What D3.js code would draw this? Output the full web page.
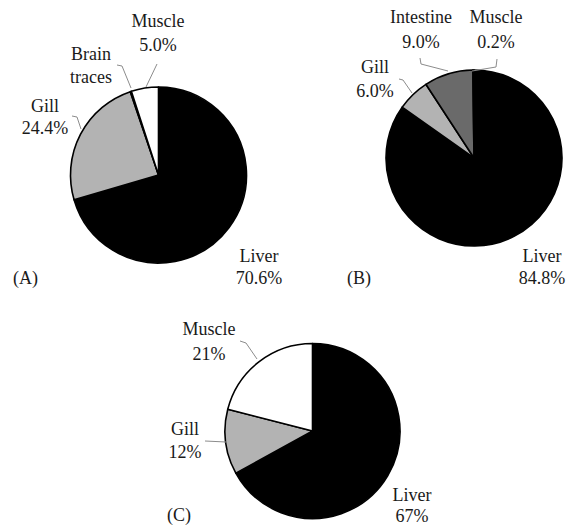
<!DOCTYPE html>
<html>
<head>
<meta charset="utf-8">
<script src="https://cdn.jsdelivr.net/npm/d3@7"></script>
<style>
  html, body { margin: 0; padding: 0; background: #fff; }
  svg { display: block; }
</style>
</head>
<body>
<svg id="chart" width="578" height="525"></svg>
<script>
// Distribution of the compound across tissues, one pie per panel.
// Slices run clockwise from 12 o'clock in the order listed.
const tissuesA = ["Liver", "Gill", "Brain traces", "Muscle"];
const valuesA  = [70.6, 24.4, 0.2, 5.0];
const labelsA  = ["70.6%", "24.4%", "", "5.0%"];

const tissuesB = ["Liver", "Gill", "Intestine", "Muscle"];
const valuesB  = [84.8, 6.0, 9.0, 0.2];
const labelsB  = ["84.8%", "6.0%", "9.0%", "0.2%"];

const tissuesC = ["Liver", "Gill", "Muscle"];
const valuesC  = [67, 12, 21];
const labelsC  = ["67%", "12%", "21%"];

const panelTags = ["(A)", "(B)", "(C)"];

const FONT = "'Liberation Serif', 'DejaVu Serif', 'Times New Roman', serif";

// Fill per tissue
const fillFor = {
  "Liver": "#000000",
  "Gill": "#b3b3b3",
  "Brain traces": "#000000",
  "Muscle": "#ffffff",
  "Intestine": "#6a6a6a"
};

// Layout of each panel: pie centre/radius, label anchors, leader lines, tag position
const layout = [
  {
    cx: 158.5, cy: 175, r: 88,
    tag: [13, 284],
    text: {
      "Liver":        { x: 259, y: [262, 284] },
      "Gill":         { x: 45,  y: [112, 134] },
      "Brain traces": { x: 91,  y: [60, 83] },
      "Muscle":       { x: 158, y: [27, 51] }
    },
    leaders: [
      [[72, 116], [77, 117], [81, 129]],
      [[117, 65], [122, 66], [131, 88]],
      [[157, 64], [146, 87]]
    ]
  },
  {
    cx: 474, cy: 158, r: 88,
    tag: [347, 284],
    text: {
      "Liver":     { x: 542, y: [262, 284] },
      "Gill":      { x: 375, y: [73, 97] },
      "Intestine": { x: 421, y: [23, 48] },
      "Muscle":    { x: 496, y: [23, 48] }
    },
    leaders: [
      [[399, 79], [403, 80], [412, 93]],
      [[420, 58], [421, 64], [448, 71]],
      [[497, 59], [496, 67], [472, 71]]
    ]
  },
  {
    cx: 312.5, cy: 431, r: 87.5,
    tag: [167, 521],
    text: {
      "Liver":  { x: 412, y: [501, 522] },
      "Gill":   { x: 185, y: [435, 458] },
      "Muscle": { x: 209, y: [335, 360] }
    },
    leaders: [
      [[240, 341], [246, 343], [257, 359]],
      [[205, 441], [226, 442]]
    ]
  }
];

const panels = [
  { tissues: tissuesA, values: valuesA, labels: labelsA },
  { tissues: tissuesB, values: valuesB, labels: labelsB },
  { tissues: tissuesC, values: valuesC, labels: labelsC }
];

const svg = d3.select("#chart");
const pie = d3.pie().sort(null).value(d => d.value).startAngle(0).endAngle(2 * Math.PI);

function addText(x, y, s, anchor) {
  svg.append("text")
    .attr("x", x)
    .attr("y", y)
    .attr("text-anchor", anchor)
    .attr("font-family", FONT)
    .attr("font-size", 18)
    .attr("fill", "#1a1a1a")
    .text(s);
}

panels.forEach((p, i) => {
  const L = layout[i];
  const rows = p.tissues.map((t, k) => ({ tissue: t, value: p.values[k], label: p.labels[k] }));
  const arc = d3.arc().innerRadius(0).outerRadius(L.r);

  const g = svg.append("g").attr("transform", `translate(${L.cx},${L.cy})`);
  g.selectAll("path")
    .data(pie(rows))
    .join("path")
    .attr("d", arc)
    .attr("fill", d => fillFor[d.data.tissue])
    .attr("stroke", "#000")
    .attr("stroke-width", 1.6)
    .attr("stroke-linejoin", "round");

  // leader lines
  const line = d3.line();
  svg.append("g").selectAll("path")
    .data(L.leaders)
    .join("path")
    .attr("d", line)
    .attr("fill", "none")
    .attr("stroke", "#8c8c8c")
    .attr("stroke-width", 1);

  // two-line labels: tissue name, then share
  rows.forEach(row => {
    const pos = L.text[row.tissue];
    const parts = row.tissue === "Brain traces" ? ["Brain", "traces"] : [row.tissue, row.label];
    parts.forEach((s, k) => addText(pos.x, pos.y[k], s, "middle"));
  });

  addText(L.tag[0], L.tag[1], panelTags[i], "start");
});
</script>
</body>
</html>
